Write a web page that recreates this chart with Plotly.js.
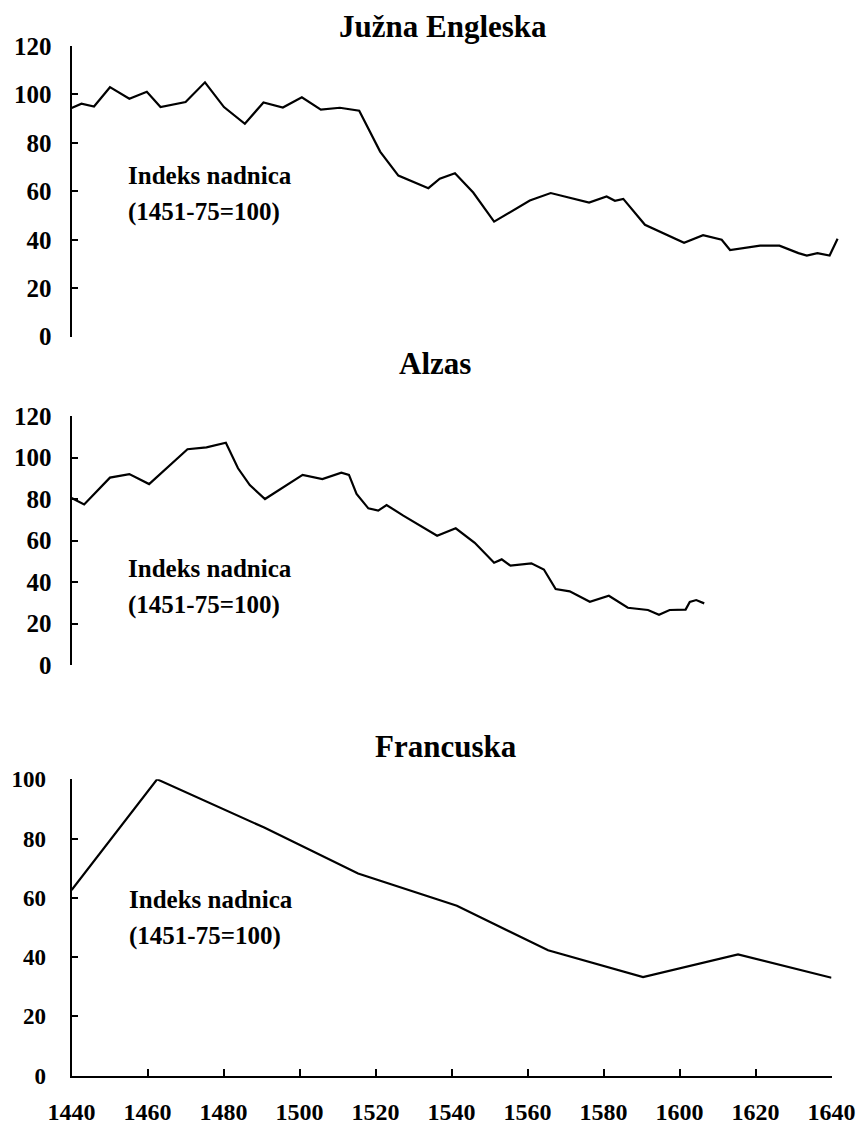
<!DOCTYPE html>
<html>
<head>
<meta charset="utf-8">
<script src="https://cdn.plot.ly/plotly-3.0.1.min.js"></script>
<style>
  html, body { margin: 0; padding: 0; background: #ffffff; }
  #chart { width: 859px; height: 1128px; }
</style>
</head>
<body>
<div id="chart"></div>
<script>
// ---------------- DATA ----------------
const panelTitles = ["Južna Engleska", "Alzas", "Francuska"];
const noteLine1 = "Indeks nadnica";
const noteLine2 = "(1451-75=100)";

const englandYears = [1440, 1442.6, 1445.9, 1450.1, 1455.2, 1459.8, 1463.4, 1466.8, 1470, 1475.1,
  1480.1, 1485.6, 1490.5, 1495.6, 1500.6, 1505.6, 1510.6, 1515.7, 1521.2, 1526,
  1533.9, 1536.9, 1540.9, 1545.7, 1551.2, 1560.6, 1566.1, 1576.2, 1580.8, 1583,
  1585.2, 1590.9, 1601.2, 1606.2, 1611.1, 1613.3, 1621.2, 1626.3, 1631.3, 1633.5,
  1636.3, 1639.5, 1641.6];
const englandWages = [94.4, 96.2, 95, 103, 98.2, 101.1, 94.8, 95.9, 96.9, 105,
  94.8, 87.9, 96.7, 94.6, 98.8, 93.7, 94.5, 93.3, 76.4, 66.5,
  61.3, 65.2, 67.5, 59.5, 47.5, 56.2, 59.3, 55.4, 57.9, 56.1,
  56.9, 46.2, 38.8, 41.9, 40, 35.8, 37.6, 37.6, 34.5, 33.5,
  34.5, 33.5, 40.4];

const alsaceYears = [1440, 1443.3, 1450.1, 1455.2, 1460.4, 1465, 1470.5, 1475.5, 1480.6, 1483.8,
  1486.9, 1490.9, 1496.1, 1500.8, 1506, 1511, 1513, 1515, 1518.1, 1520.7,
  1522.9, 1527.3, 1536.2, 1541.1, 1546.1, 1551.2, 1553.2, 1555.5, 1561, 1564.3,
  1567.4, 1571.1, 1576.4, 1581.4, 1586.4, 1591.7, 1594.6, 1597.4, 1601.6, 1602.7,
  1604.4, 1606.5];
const alsaceWages = [80.5, 77.4, 90.3, 92, 87.2, 94.8, 104, 104.9, 107.1, 94.8,
  86.7, 80, 85.9, 91.6, 89.6, 92.7, 91.6, 82.4, 75.5, 74.4,
  77.1, 72, 62.3, 65.9, 58.9, 49.3, 50.9, 47.9, 49, 46,
  36.6, 35.5, 30.5, 33.4, 27.6, 26.5, 24.2, 26.5, 26.7, 30.4,
  31.3, 29.7];

const franceYears = [1440, 1462.5, 1490.7, 1515.4, 1541.4, 1565.4, 1590.4, 1615.4, 1640];
const franceWages = [62.6, 100, 83.7, 68.2, 57.3, 42.3, 33.2, 40.9, 33];

const yearTicks = [1440, 1460, 1480, 1500, 1520, 1540, 1560, 1580, 1600, 1620, 1640];
const wageTicks120 = [0, 20, 40, 60, 80, 100, 120];
const wageTicks100 = [0, 20, 40, 60, 80, 100];

// ---------------- LAYOUT ----------------
const W = 859, H = 1128;
const px = v => v / W;          // horizontal pixel -> paper
const py = v => 1 - v / H;      // vertical pixel -> paper

const serif = "Liberation Serif";
const lineStyle = { color: "#000", width: 2.2 };

const xLeft = 71.6, pxPerYear = 759.9 / 200;

const traces = [
  { x: englandYears, y: englandWages, xaxis: "x", yaxis: "y", mode: "lines", line: lineStyle, hoverinfo: "skip" },
  { x: alsaceYears, y: alsaceWages, xaxis: "x2", yaxis: "y2", mode: "lines", line: lineStyle, hoverinfo: "skip" },
  { x: franceYears, y: franceWages, xaxis: "x3", yaxis: "y3", mode: "lines", line: lineStyle, hoverinfo: "skip" }
];

const hiddenX = (anchor) => ({
  anchor: anchor,
  domain: [px(xLeft), px(xLeft + 203 * pxPerYear)],
  range: [1440, 1643],
  visible: false,
  fixedrange: true
});

const yAxisBase = (domTop, domBottom, range, ticks, size, standoff) => ({
  domain: [py(domBottom), py(domTop)],
  range: range,
  tickmode: "array",
  tickvals: ticks,
  ticktext: ticks.map(String),
  ticks: "inside",
  ticklen: 6,
  tickwidth: 2,
  tickcolor: "#000",
  showline: true,
  linecolor: "#000",
  linewidth: 2,
  showgrid: false,
  zeroline: false,
  ticklabelstandoff: standoff,
  tickfont: { family: serif, size: size, color: "#000", weight: "bold" },
  fixedrange: true
});

const layout = {
  width: W,
  height: H,
  margin: { l: 0, r: 0, t: 0, b: 0 },
  paper_bgcolor: "#fff",
  plot_bgcolor: "#fff",
  showlegend: false,
  hovermode: false,
  font: { family: serif, color: "#000" },
  xaxis: hiddenX("y"),
  xaxis2: hiddenX("y2"),
  xaxis3: {
    anchor: "y3",
    domain: [px(xLeft), px(xLeft + 200 * pxPerYear)],
    range: [1440, 1640],
    tickmode: "array",
    tickvals: yearTicks,
    ticktext: yearTicks.map(String),
    ticks: "inside",
    ticklen: 7,
    tickwidth: 2,
    tickcolor: "#000",
    showline: true,
    linecolor: "#000",
    linewidth: 2,
    showgrid: false,
    zeroline: false,
    ticklabelstandoff: 14,
    tickfont: { family: serif, size: 24, color: "#000", weight: "bold" },
    fixedrange: true
  },
  yaxis: Object.assign(yAxisBase(46, 336.7, [0, 120], wageTicks120, 25, 13), { anchor: "x" }),
  yaxis2: Object.assign(yAxisBase(416, 665, [0, 120], wageTicks120, 25, 13), { anchor: "x2" }),
  yaxis3: Object.assign(yAxisBase(779.3, 1075.5, [0, 100], wageTicks100, 23, 19), { anchor: "x3" }),
  annotations: []
};

const titleFont = { family: serif, size: 31, color: "#000", weight: "bold" };
const noteFont = { family: serif, size: 25, color: "#000", weight: "bold" };
const titlePos = [[442.5, 26.5], [435, 363], [446, 746.5]];
const notePos = [[126, 175, 212], [126, 568, 605], [127, 899, 936]];

panelTitles.forEach((t, i) => {
  layout.annotations.push({
    text: t, xref: "paper", yref: "paper",
    x: px(titlePos[i][0]), y: py(titlePos[i][1]),
    xanchor: "center", yanchor: "middle", showarrow: false, font: titleFont
  });
  layout.annotations.push({
    text: noteLine1, xref: "paper", yref: "paper",
    x: px(notePos[i][0]), y: py(notePos[i][1]),
    xanchor: "left", yanchor: "middle", showarrow: false, font: noteFont
  });
  layout.annotations.push({
    text: noteLine2, xref: "paper", yref: "paper",
    x: px(notePos[i][0]), y: py(notePos[i][2]),
    xanchor: "left", yanchor: "middle", showarrow: false, font: noteFont
  });
});

Plotly.newPlot("chart", traces, layout, { staticPlot: true, displayModeBar: false });
</script>
</body>
</html>
